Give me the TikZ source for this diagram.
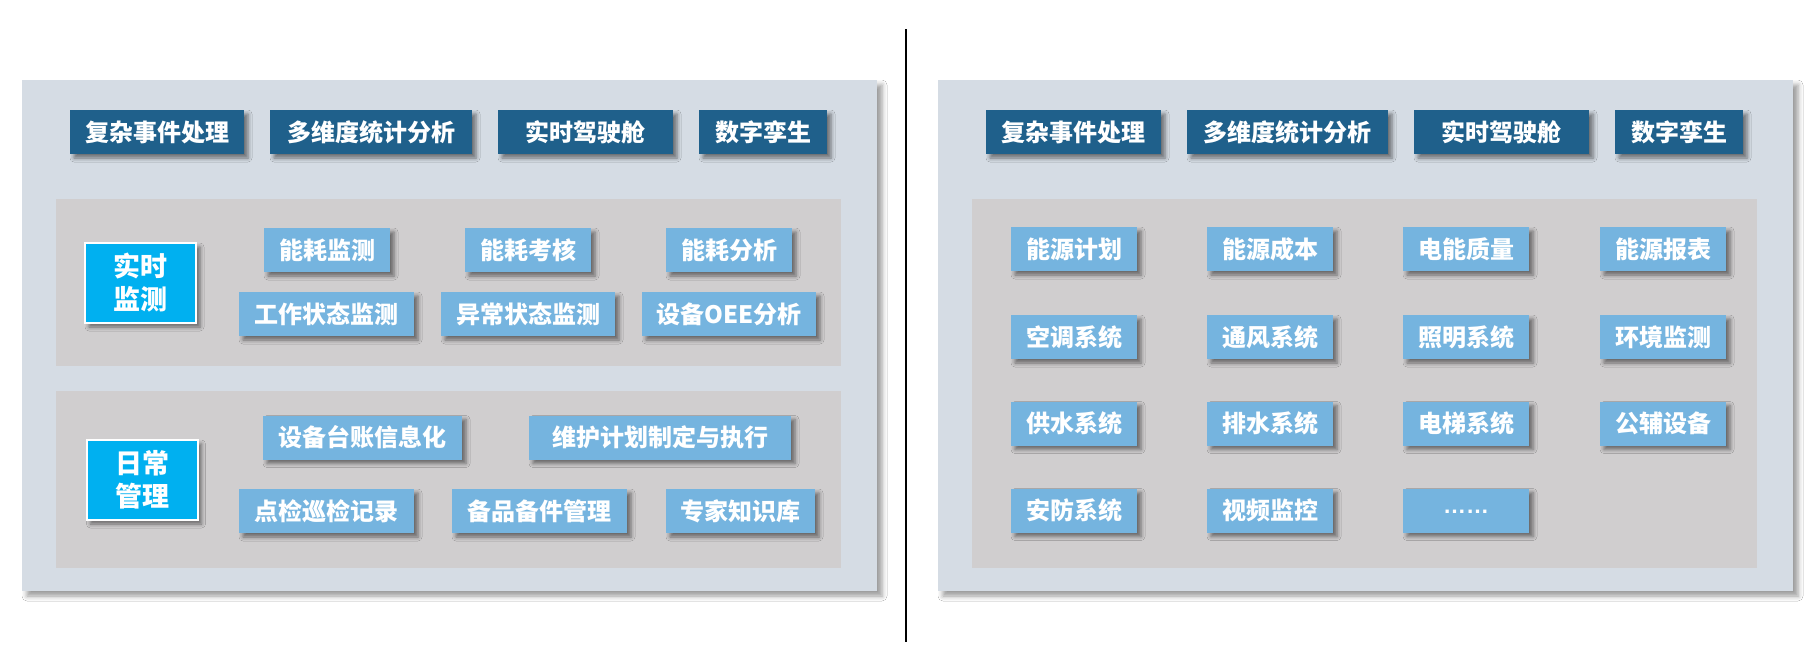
\documentclass[tikz,border=0pt]{standalone}
\usepackage{fontspec}
\newfontfamily\cjk{Noto Sans CJK SC}
\newfontfamily\latinf{Liberation Sans}
\usetikzlibrary{shadows.blur}
\definecolor{panelbg}{RGB}{213,220,228}
\definecolor{innerbg}{RGB}{208,206,207}
\definecolor{darkblue}{RGB}{31,96,139}
\definecolor{lightblue}{RGB}{117,180,223}
\definecolor{brightblue}{RGB}{0,176,240}
\begin{document}
\begin{tikzpicture}[x=1pt,y=-1pt,
  every node/.style={inner sep=0pt, outer sep=0pt},
  shad/.style={blur shadow={shadow xshift=4pt, shadow yshift=-4pt, shadow blur radius=4pt, shadow opacity=50}},
  panel/.style={fill=panelbg, anchor=north west, blur shadow={shadow xshift=5pt, shadow yshift=-5pt, shadow blur radius=5pt, shadow opacity=40}},
  inner/.style={fill=innerbg, anchor=north west},
  txt/.style={text=white, font=\cjk\bfseries\fontsize{24}{28}\selectfont},
  dbox/.style={txt, shad, fill=darkblue, minimum height=44pt},
  lbox/.style={txt, shad, fill=lightblue, minimum height=44pt},
  gbox/.style={lbox, minimum width=126pt},
  bbox/.style={shad, fill=brightblue, draw=white, line width=2pt, minimum width=111pt, minimum height=80pt,
    text=white, align=center, font=\cjk\bfseries\fontsize{27}{33}\selectfont},
]
\useasboundingbox (0,0) rectangle (1815,654);
\fill[white] (0,0) rectangle (1815,654);

% divider
\coordinate (divtop) at (906,29);
\coordinate (divbot) at (906,642);
\draw[black, line width=1.3pt] (divtop) -- (divbot);

% ===== left panel =====
\node[panel, minimum width=855pt, minimum height=511pt] (Lpanel) at (22,80) {};
\node[inner, minimum width=785pt, minimum height=167pt] (Lin1) at (56,199) {};
\node[inner, minimum width=785pt, minimum height=177pt] (Lin2) at (56,391) {};

\node[dbox, minimum width=174pt] (lt1) at (157,132) {复杂事件处理};
\node[dbox, minimum width=202pt] (lt2) at (371,132) {多维度统计分析};
\node[dbox, minimum width=175pt] (lt3) at (585.5,132) {实时驾驶舱};
\node[dbox, minimum width=128pt] (lt4) at (763,132) {数字孪生};

\node[bbox] (rt) at (140.5,283) {实时\\监测};
\node[bbox] (rc) at (142,480) {日常\\管理};

\node[lbox, minimum width=126pt] (a1) at (327,250) {能耗监测};
\node[lbox, minimum width=126pt] (a2) at (528,250) {能耗考核};
\node[lbox, minimum width=126pt] (a3) at (729,250) {能耗分析};
\node[lbox, minimum width=175pt] (a4) at (326.5,314) {工作状态监测};
\node[lbox, minimum width=174pt] (a5) at (528,314) {异常状态监测};
\node[lbox, minimum width=174pt] (a6) at (729,314) {设备OEE分析};

\node[lbox, minimum width=199pt] (b1) at (362.5,437.5) {设备台账信息化};
\node[lbox, minimum width=262pt] (b2) at (660,437.5) {维护计划制定与执行};
\node[lbox, minimum width=175pt] (b3) at (326.5,511) {点检巡检记录};
\node[lbox, minimum width=175pt] (b4) at (539.5,511) {备品备件管理};
\node[lbox, minimum width=149pt] (b5) at (740.5,511) {专家知识库};

% ===== right panel =====
\node[panel, minimum width=855pt, minimum height=511pt] (Rpanel) at (938,80) {};
\node[inner, minimum width=785pt, minimum height=369pt] (Rin) at (972,199) {};

\node[dbox, minimum width=175pt] (rt1) at (1073.5,132) {复杂事件处理};
\node[dbox, minimum width=201pt] (rt2) at (1287.5,132) {多维度统计分析};
\node[dbox, minimum width=175pt] (rt3) at (1501.5,132) {实时驾驶舱};
\node[dbox, minimum width=128pt] (rt4) at (1679,132) {数字孪生};

\node[gbox] (g11) at (1074,249) {能源计划};
\node[gbox] (g12) at (1270,249) {能源成本};
\node[gbox] (g13) at (1466,249) {电能质量};
\node[gbox] (g14) at (1663,249) {能源报表};
\node[gbox] (g21) at (1074,337) {空调系统};
\node[gbox] (g22) at (1270,337) {通风系统};
\node[gbox] (g23) at (1466,337) {照明系统};
\node[gbox] (g24) at (1663,337) {环境监测};
\node[gbox] (g31) at (1074,423.5) {供水系统};
\node[gbox] (g32) at (1270,423.5) {排水系统};
\node[gbox] (g33) at (1466,423.5) {电梯系统};
\node[gbox] (g34) at (1663,423.5) {公辅设备};
\node[gbox] (g41) at (1074,510.5) {安防系统};
\node[gbox] (g42) at (1270,510.5) {视频监控};
\node[gbox, font=\latinf\bfseries\fontsize{23}{28}\selectfont] (g43) at (1466,510.5) {\raisebox{-6pt}{……}};
\end{tikzpicture}
\end{document}
